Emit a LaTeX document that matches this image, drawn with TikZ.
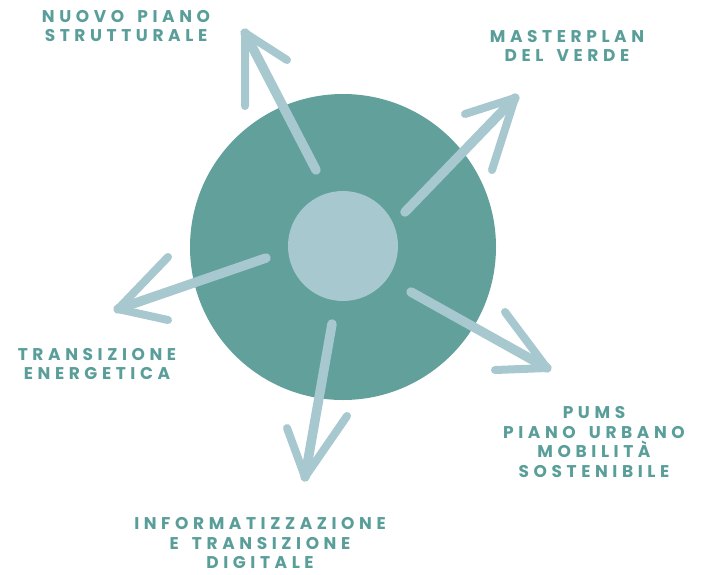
\documentclass[tikz,border=0pt]{standalone}
\usepackage{fontspec}
\usepackage{tikz}
\usetikzlibrary{positioning,calc}
\newfontfamily\labelfont[LetterSpace=27,WordSpace=1.6]{Poppins}
\definecolor{teal1}{HTML}{62A09B}
\definecolor{paleblue}{HTML}{A8C8CF}
\definecolor{labeltext}{HTML}{5A9E99}

\begin{document}
\begin{tikzpicture}[
    x=1pt, y=-1pt,
    hub/.style={circle, fill=teal1, minimum size=306pt, inner sep=0pt},
    core/.style={circle, fill=paleblue, minimum size=110pt, inner sep=0pt},
    shaft/.style={draw=paleblue, line width=9.5pt, line cap=round},
    barb/.style={draw=paleblue, line width=8pt, line cap=round, line join=round},
    topic/.style={align=center, text=labeltext, font=\labelfont\bfseries\fontsize{17}{19.5}\selectfont, inner sep=0pt},
]
\useasboundingbox (0,0) rectangle (705,574);

% Circles
\node[hub] (hub) at (343,247) {};
\node[core] (core) at (343,246) {};

% Topics
\node[topic] (strutturale) at (126,26) {NUOVO PIANO\\STRUTTURALE};
\node[topic] (verde) at (567,46) {MASTERPLAN\\DEL VERDE};
\node[topic] (energia) at (97,364) {TRANSIZIONE\\ENERGETICA};
\node[topic] (pums) at (594,442) {PUMS\\PIANO URBANO\\MOBILITÀ\\SOSTENIBILE};
\node[topic] (digitale) at (260,543) {INFORMATIZZAZIONE\\E TRANSIZIONE\\DIGITALE};

% Arrow end points
\coordinate (t1) at (316,170); \coordinate (h1) at (245,33);
\coordinate (t2) at (405,212); \coordinate (h2) at (515,98);
\coordinate (t3) at (411,292); \coordinate (h3) at (547,368);
\coordinate (t4) at (332,324); \coordinate (h4) at (305,477);
\coordinate (t5) at (266,258); \coordinate (h5) at (118,309);

% Arrows
\draw[shaft] (t1) -- (h1);
\draw[barb] (245,106) -- (h1) -- (287,60);
\draw[shaft] (t2) -- (h2);
\draw[barb] (465,114) -- (h2) -- (492,170);
\draw[shaft] (t3) -- (h3);
\draw[barb] (505,312) -- (h3) -- (495,370);
\draw[shaft] (t4) -- (h4);
\draw[barb] (287,428) -- (h4) -- (347,416);
\draw[shaft] (t5) -- (h5);
\draw[barb] (168,257) -- (h5) -- (168,320);

\end{tikzpicture}
\end{document}
